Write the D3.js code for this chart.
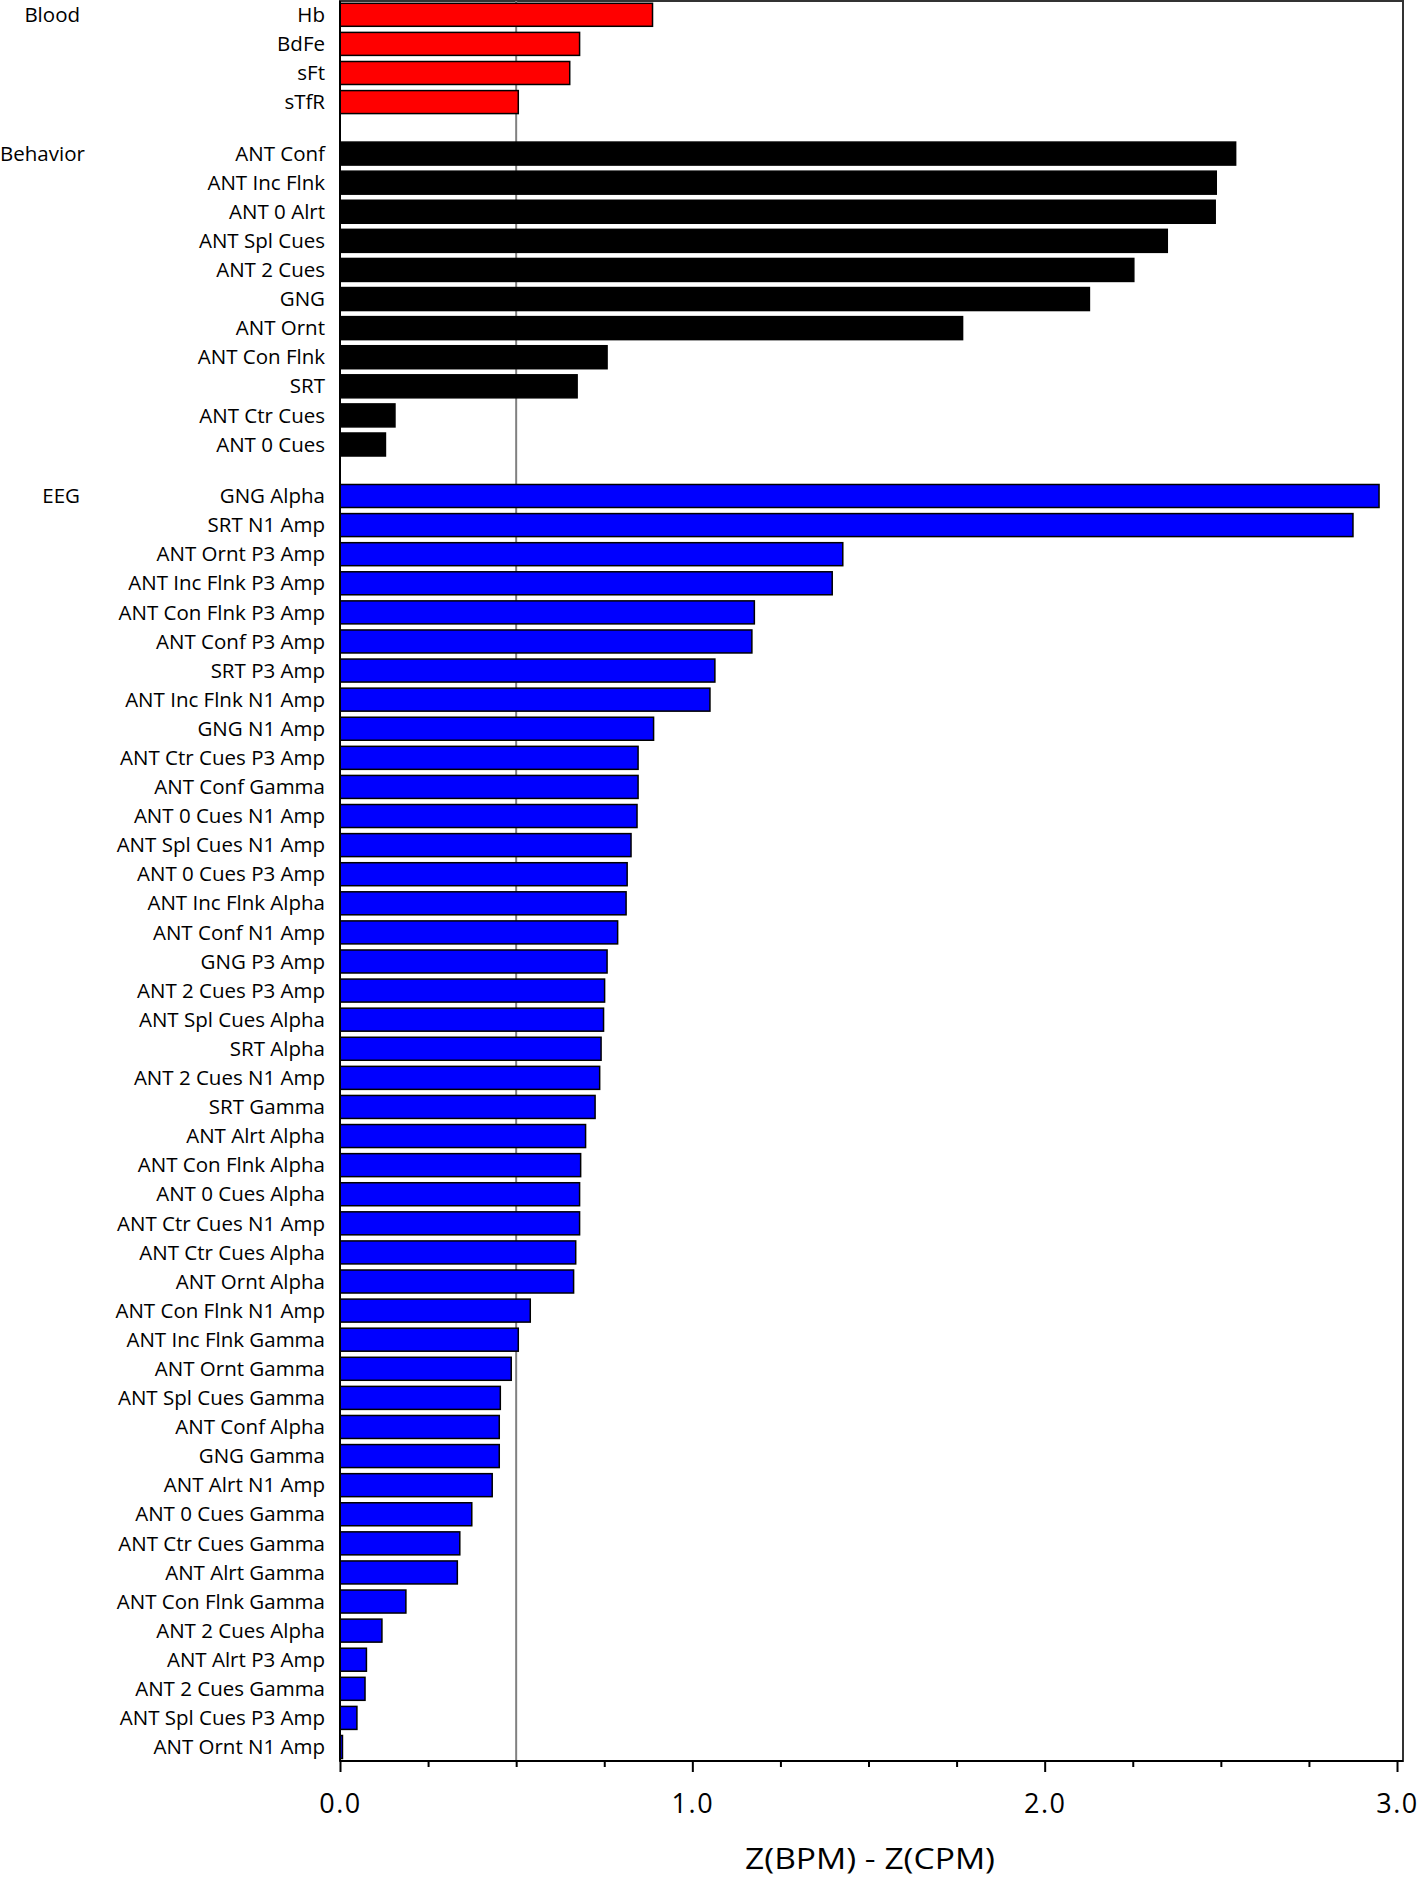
<!DOCTYPE html>
<html>
<head>
<meta charset="utf-8">
<script src="https://cdn.jsdelivr.net/npm/d3@7"></script>
<style>
  html, body { margin: 0; padding: 0; background: #fff; }
  svg { display: block; font-family: "Open Sans", "DejaVu Sans", sans-serif; }
</style>
</head>
<body>
<svg id="chart" width="1418" height="1877"></svg>
<script>
// ---- data ----
const groups = ["Blood", "Behavior", "EEG"];
const groupColors = ["#ff0000", "#000000", "#0000ff"];

const bloodLabels = ["Hb", "BdFe", "sFt", "sTfR"];
const bloodValues = [0.887, 0.680, 0.652, 0.506];

const behaviorLabels = ["ANT Conf", "ANT Inc Flnk", "ANT 0 Alrt", "ANT Spl Cues", "ANT 2 Cues", "GNG",
  "ANT Ornt", "ANT Con Flnk", "SRT", "ANT Ctr Cues", "ANT 0 Cues"];
const behaviorValues = [2.542, 2.487, 2.484, 2.348, 2.253, 2.127, 1.767, 0.758, 0.673, 0.156, 0.129];

const eegLabels = ["GNG Alpha", "SRT N1 Amp", "ANT Ornt P3 Amp", "ANT Inc Flnk P3 Amp", "ANT Con Flnk P3 Amp",
  "ANT Conf P3 Amp", "SRT P3 Amp", "ANT Inc Flnk N1 Amp", "GNG N1 Amp", "ANT Ctr Cues P3 Amp",
  "ANT Conf Gamma", "ANT 0 Cues N1 Amp", "ANT Spl Cues N1 Amp", "ANT 0 Cues P3 Amp", "ANT Inc Flnk Alpha",
  "ANT Conf N1 Amp", "GNG P3 Amp", "ANT 2 Cues P3 Amp", "ANT Spl Cues Alpha", "SRT Alpha",
  "ANT 2 Cues N1 Amp", "SRT Gamma", "ANT Alrt Alpha", "ANT Con Flnk Alpha", "ANT 0 Cues Alpha",
  "ANT Ctr Cues N1 Amp", "ANT Ctr Cues Alpha", "ANT Ornt Alpha", "ANT Con Flnk N1 Amp", "ANT Inc Flnk Gamma",
  "ANT Ornt Gamma", "ANT Spl Cues Gamma", "ANT Conf Alpha", "GNG Gamma", "ANT Alrt N1 Amp",
  "ANT 0 Cues Gamma", "ANT Ctr Cues Gamma", "ANT Alrt Gamma", "ANT Con Flnk Gamma", "ANT 2 Cues Alpha",
  "ANT Alrt P3 Amp", "ANT 2 Cues Gamma", "ANT Spl Cues P3 Amp", "ANT Ornt N1 Amp"];
const eegValues = [2.949, 2.875, 1.427, 1.397, 1.176, 1.169, 1.064, 1.050, 0.890, 0.846,
  0.846, 0.843, 0.826, 0.815, 0.812, 0.788, 0.758, 0.751, 0.748, 0.741,
  0.737, 0.724, 0.697, 0.683, 0.680, 0.680, 0.669, 0.663, 0.540, 0.506,
  0.486, 0.455, 0.452, 0.452, 0.432, 0.374, 0.340, 0.333, 0.187, 0.119,
  0.075, 0.071, 0.048, 0.007];

const majorTicks = [0, 1, 2, 3];
const minorTicks = [0.25, 0.5, 0.75, 1.25, 1.5, 1.75, 2.25, 2.5, 2.75];
const refValue = 0.5;
const xTitle = "Z(BPM) - Z(CPM)";

// ---- build rows ----
const groupGap = 0.77;
const groupLabelsArr = [bloodLabels, behaviorLabels, eegLabels];
const groupValuesArr = [bloodValues, behaviorValues, eegValues];
const rows = [];
let slot = 0;
groupLabelsArr.forEach((labs, gi) => {
  if (gi > 0) slot += groupGap;
  labs.forEach((lab, i) => {
    rows.push({ group: gi, label: lab, value: groupValuesArr[gi][i], slot: slot, first: i === 0 });
    slot += 1;
  });
});
const lastSlot = slot - 1;

// ---- layout ----
const plotLeft = 340, plotRight = 1403, plotTop = 1, plotBottom = 1761;
const x = d3.scaleLinear().domain([0, 3.017]).range([plotLeft, plotRight]);
const y = d3.scaleLinear().domain([0, lastSlot]).range([14.8, 1747]);
const barH = 23;

const svg = d3.select("#chart");

// frame
svg.append("rect")
  .attr("x", plotLeft).attr("y", plotTop)
  .attr("width", plotRight - plotLeft).attr("height", plotBottom - plotTop)
  .attr("fill", "none").attr("stroke", "#333").attr("stroke-width", 2);

// reference line
svg.append("line")
  .attr("x1", x(refValue)).attr("x2", x(refValue))
  .attr("y1", plotTop).attr("y2", plotBottom)
  .attr("stroke", "#808080").attr("stroke-width", 2);

// bars
svg.append("g").selectAll("rect").data(rows).join("rect")
  .attr("x", x(0))
  .attr("y", d => y(d.slot) - barH / 2)
  .attr("width", d => x(d.value) - x(0))
  .attr("height", barH)
  .attr("fill", d => groupColors[d.group])
  .attr("stroke", "#000").attr("stroke-width", 1.5);

// left axis line
svg.append("line")
  .attr("x1", plotLeft).attr("x2", plotLeft)
  .attr("y1", plotTop).attr("y2", plotBottom)
  .attr("stroke", "#000").attr("stroke-width", 2);

// category labels
svg.append("g").selectAll("text").data(rows).join("text")
  .attr("x", 325)
  .attr("y", d => y(d.slot))
  .attr("dy", "0.35em")
  .attr("text-anchor", "end")
  .attr("font-size", 20.5)
  .attr("fill", "#000")
  .text(d => d.label);

// group labels (right-aligned, but never pushed past the left edge)
svg.append("g").selectAll("text").data(rows.filter(d => d.first)).join("text")
  .attr("x", 80)
  .attr("y", d => y(d.slot))
  .attr("dy", "0.35em")
  .attr("text-anchor", "end")
  .attr("font-size", 20.5)
  .attr("fill", "#000")
  .text(d => groups[d.group])
  .each(function () {
    const b = this.getBBox();
    if (b.x < 0) d3.select(this).attr("text-anchor", "start").attr("x", 0);
  });

// minor ticks
const minorAxis = svg.append("g")
  .attr("transform", `translate(0,${plotBottom})`)
  .call(d3.axisBottom(x).tickValues(minorTicks).tickSize(6).tickFormat(""));
minorAxis.select(".domain").remove();
minorAxis.selectAll(".tick line").attr("stroke", "#000").attr("stroke-width", 2);

// major axis
const majorAxis = svg.append("g")
  .attr("transform", `translate(0,${plotBottom})`)
  .call(d3.axisBottom(x).tickValues(majorTicks).tickSize(11).tickSizeOuter(0).tickFormat(d3.format(".1f")));
majorAxis.select(".domain").attr("stroke", "#000").attr("stroke-width", 2)
  .attr("d", `M${plotLeft},0H${plotRight}`);
majorAxis.selectAll(".tick line").attr("stroke", "#000").attr("stroke-width", 2);
majorAxis.selectAll(".tick text")
  .attr("y", 33)
  .attr("font-family", "'Open Sans', sans-serif")
  .attr("font-size", 27)
  .attr("letter-spacing", 1.5)
  .attr("fill", "#000");

// axis title
svg.append("text")
  .attr("x", 870).attr("y", 1869)
  .attr("text-anchor", "middle")
  .attr("font-size", 29)
  .attr("textLength", 250)
  .attr("lengthAdjust", "spacingAndGlyphs")
  .attr("fill", "#000")
  .text(xTitle);
</script>
</body>
</html>
